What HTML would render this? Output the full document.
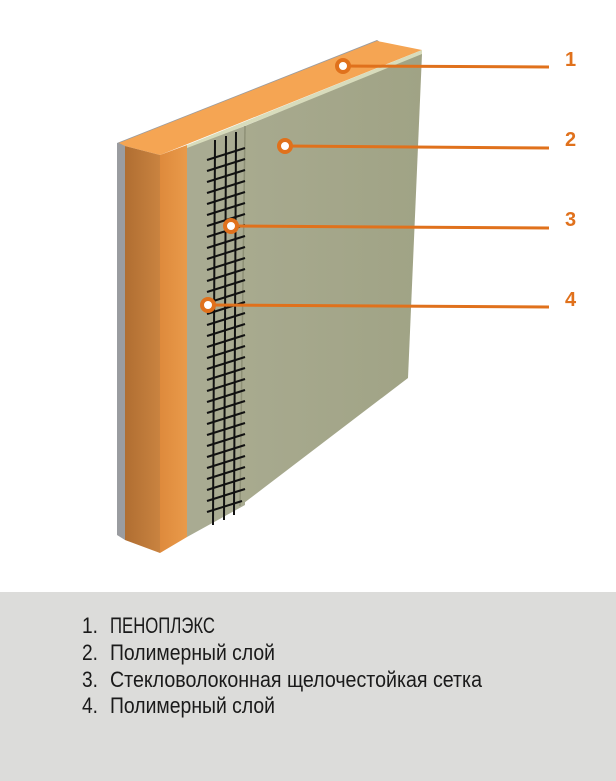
<!DOCTYPE html>
<html><head><meta charset="utf-8"><style>
html,body{margin:0;padding:0;background:#fff;}
body{width:616px;height:781px;overflow:hidden;position:relative;}
svg{position:absolute;left:0;top:0;}
</style></head><body>
<svg width="616" height="781" viewBox="0 0 616 781" xmlns="http://www.w3.org/2000/svg">
<defs>
<linearGradient id="side" x1="0" x2="1" y1="0" y2="0"><stop offset="0" stop-color="#b06e32"/><stop offset="1" stop-color="#c98340"/></linearGradient>
<linearGradient id="front" x1="0" x2="1"><stop offset="0" stop-color="#de8a3c"/><stop offset="1" stop-color="#e99a4a"/></linearGradient>
<linearGradient id="panel" x1="0" x2="1"><stop offset="0" stop-color="#a8aa8f"/><stop offset="1" stop-color="#a0a385"/></linearGradient>
</defs>
<polygon points="117,143 377,40 380,42 125,145 125,540 117,535" fill="#9a9ca0"/>
<polygon points="119,143 377,41 422,50 160,155 125,146" fill="#f5a553"/>
<polygon points="125,146 160,155 160,553 125,540" fill="url(#side)"/>
<polygon points="160,155 187,145 187,537 160,553" fill="url(#front)"/>
<polygon points="187,145 422,50 422,55 187,149" fill="#d8dcbc"/>
<polygon points="187,148 245,126 245,505 187,537" fill="#a9ab92"/>
<polygon points="245,126 422,54 408,378 240,506" fill="url(#panel)"/>
<line x1="245" y1="126" x2="240" y2="506" stroke="#8e9076" stroke-width="1.5"/>
<g stroke="#111" stroke-width="2">
<line x1="215" y1="140" x2="213" y2="525"/>
<line x1="226" y1="136" x2="224" y2="520"/>
<line x1="236" y1="132" x2="234" y2="515"/>
</g>
<g stroke="#111" stroke-width="2">
<line x1="207" y1="160" x2="245" y2="148"/><line x1="207" y1="171" x2="245" y2="159"/><line x1="207" y1="182" x2="245" y2="170"/><line x1="207" y1="193" x2="245" y2="181"/><line x1="207" y1="204" x2="245" y2="192"/><line x1="207" y1="215" x2="245" y2="203"/><line x1="207" y1="226" x2="245" y2="214"/><line x1="207" y1="237" x2="245" y2="225"/><line x1="207" y1="248" x2="245" y2="236"/><line x1="207" y1="259" x2="245" y2="247"/><line x1="207" y1="270" x2="245" y2="258"/><line x1="207" y1="281" x2="245" y2="269"/><line x1="207" y1="292" x2="245" y2="280"/><line x1="207" y1="303" x2="245" y2="291"/><line x1="207" y1="314" x2="245" y2="302"/><line x1="207" y1="325" x2="245" y2="313"/><line x1="207" y1="336" x2="245" y2="324"/><line x1="207" y1="347" x2="245" y2="335"/><line x1="207" y1="358" x2="245" y2="346"/><line x1="207" y1="369" x2="245" y2="357"/><line x1="207" y1="380" x2="245" y2="368"/><line x1="207" y1="391" x2="245" y2="379"/><line x1="207" y1="402" x2="245" y2="390"/><line x1="207" y1="413" x2="245" y2="401"/><line x1="207" y1="424" x2="245" y2="412"/><line x1="207" y1="435" x2="245" y2="423"/><line x1="207" y1="446" x2="245" y2="434"/><line x1="207" y1="457" x2="245" y2="445"/><line x1="207" y1="468" x2="245" y2="456"/><line x1="207" y1="479" x2="245" y2="467"/><line x1="207" y1="490" x2="245" y2="478"/><line x1="207" y1="501" x2="245" y2="489"/><line x1="207" y1="512" x2="242" y2="501"/>
</g>
<g stroke="#e0711c" stroke-width="3">
<line x1="343" y1="66" x2="549" y2="67"/>
<line x1="285" y1="146" x2="549" y2="148"/>
<line x1="231" y1="226" x2="549" y2="228"/>
<line x1="208" y1="305" x2="549" y2="307"/>
</g>
<g fill="#fff" stroke="#e0711c" stroke-width="4">
<circle cx="343" cy="66" r="6"/><circle cx="285" cy="146" r="6"/><circle cx="231" cy="226" r="6"/><circle cx="208" cy="305" r="6"/>
</g>
<g fill="#e0711c" font-family="Liberation Sans, sans-serif" font-weight="bold" font-size="20">
<text x="565" y="66">1</text><text x="565" y="146">2</text><text x="565" y="226">3</text><text x="565" y="306">4</text>
</g>
<rect x="0" y="592" width="616" height="189" fill="#dcdcda"/>
<g fill="#1a1a1a" font-family="Liberation Sans, sans-serif" font-size="22">
<text x="82" y="633" textLength="16" lengthAdjust="spacingAndGlyphs">1.</text><text x="110" y="633" textLength="105" lengthAdjust="spacingAndGlyphs">ПЕНОПЛЭКС</text>
<text x="82" y="660" textLength="16" lengthAdjust="spacingAndGlyphs">2.</text><text x="110" y="660" textLength="165" lengthAdjust="spacingAndGlyphs">Полимерный слой</text>
<text x="82" y="687" textLength="16" lengthAdjust="spacingAndGlyphs">3.</text><text x="110" y="687" textLength="372" lengthAdjust="spacingAndGlyphs">Стекловолоконная щелочестойкая сетка</text>
<text x="82" y="713" textLength="16" lengthAdjust="spacingAndGlyphs">4.</text><text x="110" y="713" textLength="165" lengthAdjust="spacingAndGlyphs">Полимерный слой</text>
</g>
</svg>
</body></html>
